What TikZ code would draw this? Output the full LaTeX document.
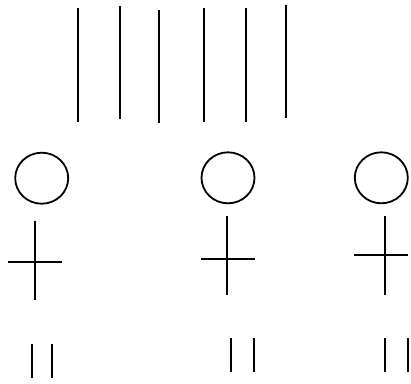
\documentclass[tikz,border=0pt]{standalone}
\usetikzlibrary{shapes.geometric}
\begin{document}
\begin{tikzpicture}[x=1pt,y=-1pt,
  stroke/.style={draw=black,line width=1.8pt},
  head/.style={stroke,ellipse,minimum width=53pt,minimum height=51pt,inner sep=0pt}]
\useasboundingbox (0,0) rectangle (411,383);
% top bars
\draw[stroke] (78.3,8.3) -- (78.3,121.7);
\draw[stroke] (120.3,6) -- (120.3,119.3);
\draw[stroke] (158.7,10.3) -- (158.7,123.3);
\draw[stroke] (203.7,8.3) -- (203.7,121.7);
\draw[stroke] (246,8.3) -- (246,121.7);
\draw[stroke] (286.3,5) -- (286.3,118.3);
% heads
\node[head] (h1) at (41.7,178.2) {};
\node[head] (h2) at (228,177.8) {};
\node[head] (h3) at (381.3,177.8) {};
% crosses
\draw[stroke] (35,220.7) -- (35,300);
\draw[stroke] (8.3,261.7) -- (62.3,261.7);
\draw[stroke] (226.7,216) -- (226.7,295);
\draw[stroke] (201,259) -- (255,259);
\draw[stroke] (385,216) -- (385,295);
\draw[stroke] (354.3,255) -- (408.3,255);
% bottom bars
\draw[stroke] (32.3,344) -- (32.3,378.3);
\draw[stroke] (52.3,344) -- (52.3,378.3);
\draw[stroke] (230.7,338.3) -- (230.7,372.3);
\draw[stroke] (254.3,338.3) -- (254.3,372.3);
\draw[stroke] (385,338.3) -- (385,372.3);
\draw[stroke] (408.3,338.3) -- (408.3,372.3);
\end{tikzpicture}
\end{document}
